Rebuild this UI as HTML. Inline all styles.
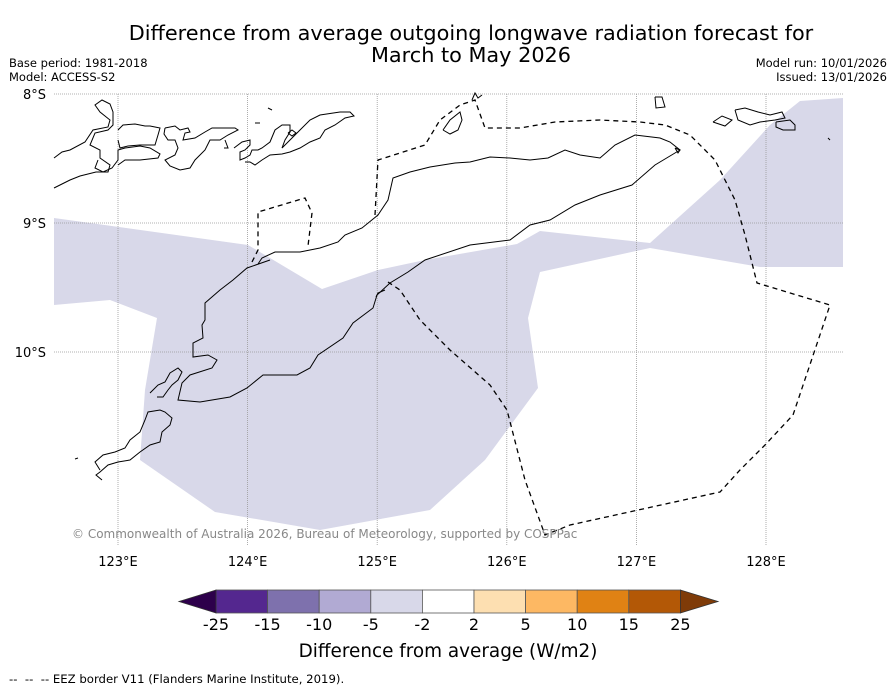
<!DOCTYPE html>
<html><head><meta charset="utf-8"><style>
body{margin:0;background:#fff;width:896px;height:690px;overflow:hidden;font-family:"DejaVu Sans","Liberation Sans",sans-serif;}
svg{position:absolute;left:0;top:0}
</style></head><body>
<svg width="896" height="690" viewBox="0 0 896 690">
<text x="471" y="40" text-anchor="middle" font-size="20.8" fill="#000">Difference from average outgoing longwave radiation forecast for</text>
<text x="471" y="62" text-anchor="middle" font-size="20.8" fill="#000">March to May 2026</text>
<text x="9" y="67" font-size="11.5">Base period: 1981-2018</text>
<text x="9" y="81" font-size="11.5">Model: ACCESS-S2</text>
<text x="887" y="67" font-size="11.5" text-anchor="end">Model run: 10/01/2026</text>
<text x="887" y="81" font-size="11.5" text-anchor="end">Issued: 13/01/2026</text>

<g id="map">
<polygon fill="#d8d8e9" points="54,305 110,300 157,318 145,390 140,460 215,512 320,530 430,510 485,460 538,388 528,318 540,272 650,248 760,267 843,267 843,98 800,101 770,125 720,180 650,243 540,231 517,244 425,260 378,270 322,289 270,258 248,245 54,218"/>
<g id="grid" stroke="#999" stroke-width="0.8" stroke-dasharray="1,1"></g>
<g fill="none" stroke="#000" stroke-width="1">
<polyline points="270,260 247,268 233,280 220,290 205,303 205,320 202,325 203,338 193,343 193,357 208,355 217,360 212,368 190,375 182,383 178,400 200,402 230,397 247,388 263,375 297,375 310,368 318,355 343,338 353,323 373,308 377,295 390,283 408,272 425,260 470,245 510,240 530,225 550,220 575,205 600,195 632,185 655,165 680,150 670,142 660,138 635,135 615,145 600,158 580,155 565,150 548,158 530,160 510,158 490,157 470,162 455,163 430,167 410,172 393,178 388,200 378,215 362,228 345,235 338,242 320,248 300,252 275,252 262,258 258,264"/>
<polyline points="150,393 158,385 165,382 170,373 178,368 182,372 178,380 172,385 168,390 163,397 157,397"/>
<polyline points="75,459 78,458"/>
<polyline points="100,470 95,462 103,455 115,452 125,448 130,440 140,432 145,420 148,412 160,410 165,412 172,418 170,425 162,432 160,442 150,445 140,452 130,460 118,462 108,465 100,472 96,475 102,480"/>
<polyline points="54,158 62,152 70,150 85,142 93,130 108,127 110,120 100,112 95,105 102,100 110,104 113,112 113,125 108,130 95,133 90,145 100,150 100,158 110,165 108,172 96,172 80,176 70,180 62,184 54,188"/>
<polyline points="98,160 95,168 103,172 112,168 118,160 118,150 125,148 140,146 150,148 160,154 158,158 140,160 125,160 118,165"/>
<polyline points="118,130 123,125 135,124 145,126 150,126 155,127 160,128 158,135 155,145 140,145 128,146 120,148 118,140"/>
<polyline points="165,128 175,126 180,130 188,128 190,132 185,133 183,140 195,138 205,132 212,128 222,128 235,128 238,130 228,135 220,140 210,140 205,150 195,160 190,168 180,170 170,166 165,160 175,155 178,148 175,140 168,140 164,134 165,128"/>
<polyline points="225,140 228,148 224,148"/>
<polyline points="234,148 242,142 250,140 250,145 245,150 240,152 240,160 245,158 250,155 252,150 258,150 262,148 270,142 275,130 282,125 290,125 290,132 285,140 282,148 290,140 300,130 310,120 320,115 340,112 350,112 354,116 345,118 335,125 325,130 320,138 310,142 300,148 290,152 282,154 270,155 262,160 255,165 250,162 245,162"/>
<polyline points="288,133 292,136 296,133 292,130 288,133"/>
<polyline points="268,108 272,110"/><polyline points="255,123 260,123"/>
<polyline points="655,97 662,97 665,107 656,108 655,97"/>
<polyline points="713,122 722,116 732,120 725,126 713,122"/>
<polyline points="735,110 745,108 758,112 770,115 782,112 785,118 775,120 760,122 750,125 738,120 735,110"/>
<polyline points="776,122 790,120 795,125 795,130 783,130 776,127 776,122"/>
<polyline points="472,100 475,93 478,98 482,95"/>
<polyline points="443,130 450,120 460,112 462,120 458,130 450,134 443,130"/>
<polyline points="675,148 680,150 678,153 675,148"/>
<polyline points="828,138 830,140"/>
<polyline points="376,297 378,293 385,290"/>
</g>
<g fill="none" stroke="#000" stroke-width="1.3" stroke-dasharray="5,4">
<polyline points="252,262 258,250 258,212 305,198 312,213 308,246"/>
<polyline points="375,215 378,160 425,145 440,120 460,105 475,100 485,128 520,128 555,122 600,120 640,122 665,125 690,135 715,160 735,200 745,235 757,283 830,305 793,415 765,445 740,470 720,492 570,525 545,535 525,480 507,410 490,385 450,350 420,320 400,290 388,282"/>
</g>
<text x="72" y="538" font-size="12" fill="#888">© Commonwealth of Australia 2026, Bureau of Meteorology, supported by COSPPac</text>
<g id="ticks" font-size="13"></g>
</g>

<g id="cbar"></g>
<text x="448" y="657" text-anchor="middle" font-size="18.4">Difference from average (W/m2)</text>
<text x="9" y="683" font-size="11.7" style="white-space:pre">--  --  -- EEZ border V11 (Flanders Marine Institute, 2019).</text>
</svg>
<script>
const lonTicks=[123,124,125,126,127,128];
const latTicks=[8,9,10];
const levels=["-25","-15","-10","-5","-2","2","5","10","15","25"];
const colors=["#54278f","#7e71ad","#b1aad3","#d8d8e9","#ffffff","#fddfb1","#fdb863","#e08214","#b35806"];
const extColors=["#2d004b","#7f3b08"];
const ns="http://www.w3.org/2000/svg";
function xOf(lon){return 118+(lon-123)*129.6;}
function yOf(lat){return 94+(lat-8)*129;}
const grid=document.getElementById('grid'),ticks=document.getElementById('ticks');
lonTicks.forEach(l=>{const x=xOf(l);
 const ln=document.createElementNS(ns,'line');ln.setAttribute('x1',x);ln.setAttribute('x2',x);ln.setAttribute('y1',94);ln.setAttribute('y2',546);
 
 grid.appendChild(ln);
 const t=document.createElementNS(ns,'text');t.setAttribute('x',x);t.setAttribute('y',566);t.setAttribute('text-anchor','middle');t.textContent=l+'°E';
 
 ticks.appendChild(t);});
latTicks.forEach(l=>{const y=yOf(l);
 const ln=document.createElementNS(ns,'line');ln.setAttribute('x1',54);ln.setAttribute('x2',843);ln.setAttribute('y1',y);ln.setAttribute('y2',y);
 
 grid.appendChild(ln);
 const t=document.createElementNS(ns,'text');t.setAttribute('x',46);t.setAttribute('y',y+5);t.setAttribute('text-anchor','end');t.textContent=l+'°S';
 
 ticks.appendChild(t);});
const cb=document.getElementById('cbar');const x0=216,w=51.6,y0=590,h=23;
colors.forEach((c,i)=>{const r=document.createElementNS(ns,'rect');r.setAttribute('x',x0+i*w);r.setAttribute('y',y0);r.setAttribute('width',w);r.setAttribute('height',h);r.setAttribute('fill',c);r.setAttribute('stroke','#555');r.setAttribute('stroke-width','0.8');
 
 cb.appendChild(r);});
const xe=x0+colors.length*w;
[[`${x0},${y0} ${x0},${y0+h} 179,${y0+h/2}`,extColors[0]],[`${xe},${y0} ${xe},${y0+h} 718,${y0+h/2}`,extColors[1]]].forEach(p=>{const g=document.createElementNS(ns,'polygon');g.setAttribute('points',p[0]);g.setAttribute('fill',p[1]);g.setAttribute('stroke','#333');g.setAttribute('stroke-width','0.8');
 
 cb.appendChild(g);});
levels.forEach((l,i)=>{const t=document.createElementNS(ns,'text');t.setAttribute('x',x0+i*w);t.setAttribute('y',630);t.setAttribute('text-anchor','middle');t.setAttribute('font-size','16');t.textContent=l;
 
 cb.appendChild(t);});
</script>
</body></html>
